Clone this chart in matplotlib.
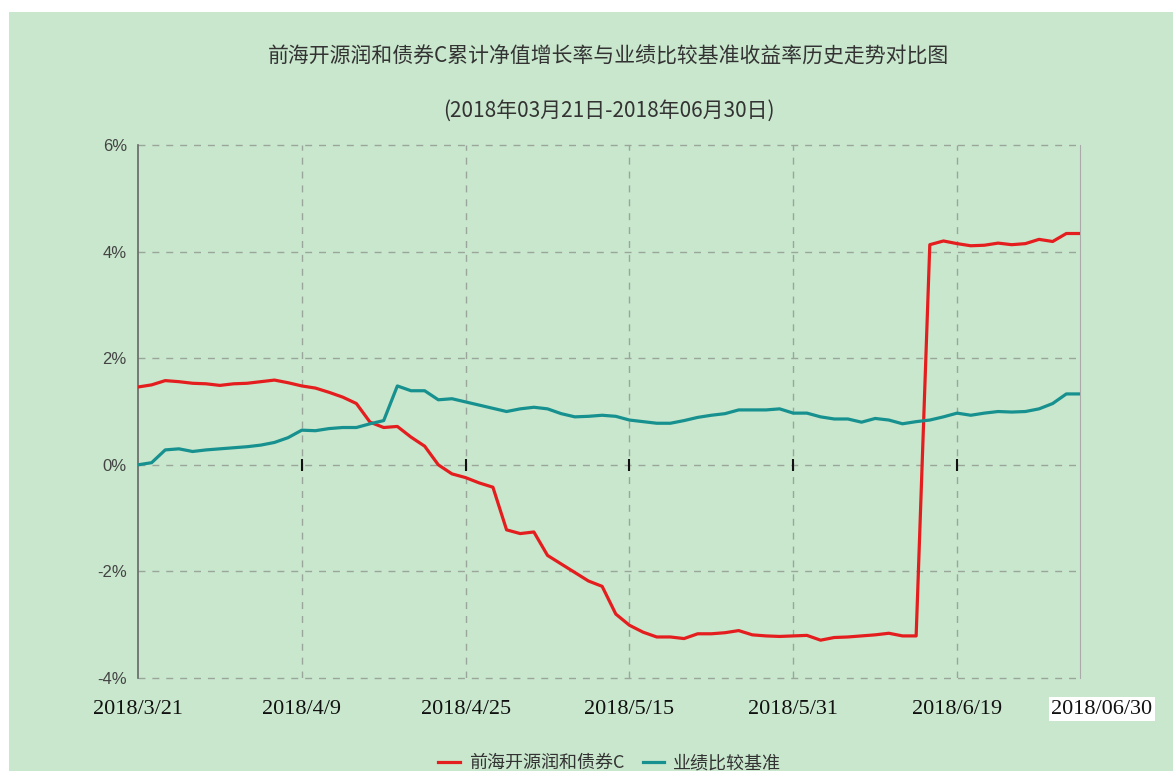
import numpy as np
import matplotlib
matplotlib.use('Agg')
import matplotlib.pyplot as plt
from matplotlib.patches import Rectangle

plt.rcParams['font.family'] = ['Noto Sans CJK SC', 'DejaVu Sans']

# 交易日序号 0..69
tick_pos = [0, 12, 24, 36, 48, 60]
tick_labels = ['2018/3/21', '2018/4/9', '2018/4/25', '2018/5/15', '2018/5/31', '2018/6/19']
last_label = '2018/06/30'

fund = [1.46, 1.50, 1.58, 1.56, 1.53, 1.52, 1.49, 1.52, 1.53, 1.56,
        1.59, 1.54, 1.48, 1.44, 1.36, 1.27, 1.15, 0.80, 0.70, 0.72,
        0.52, 0.35, 0.00, -0.17, -0.24, -0.34, -0.42, -1.22, -1.29, -1.26,
        -1.70, -1.86, -2.02, -2.18, -2.28, -2.80, -3.01, -3.14, -3.23, -3.23,
        -3.26, -3.17, -3.17, -3.15, -3.11, -3.19, -3.21, -3.22, -3.21, -3.20,
        -3.29, -3.24, -3.23, -3.21, -3.19, -3.16, -3.21, -3.21, 4.13, 4.20,
        4.15, 4.11, 4.12, 4.16, 4.13, 4.15, 4.23, 4.19, 4.34, 4.34]

bench = [0.00, 0.04, 0.28, 0.30, 0.25, 0.28, 0.30, 0.32, 0.34, 0.37,
         0.42, 0.51, 0.65, 0.64, 0.68, 0.70, 0.70, 0.77, 0.83, 1.48,
         1.39, 1.39, 1.22, 1.24, 1.18, 1.12, 1.06, 1.00, 1.05, 1.08,
         1.05, 0.96, 0.90, 0.91, 0.93, 0.91, 0.84, 0.81, 0.78, 0.78,
         0.83, 0.89, 0.93, 0.96, 1.03, 1.03, 1.03, 1.05, 0.97, 0.97,
         0.90, 0.86, 0.86, 0.80, 0.87, 0.84, 0.77, 0.81, 0.84, 0.90,
         0.97, 0.93, 0.97, 1.00, 0.99, 1.00, 1.05, 1.15, 1.33, 1.33]

x = np.arange(len(fund))
bg = '#c9e7cd'

fig = plt.figure(figsize=(11.73, 7.71), dpi=100, facecolor='white')
fig.patches.append(Rectangle((9 / 1173, 0), 1, 1 - 12 / 771, transform=fig.transFigure,
                             facecolor=bg, edgecolor='none', zorder=-10))
ax = fig.add_axes([0.1176, 0.1206, 0.8031, 0.6913])
ax.set_facecolor(bg)

ax.plot(x, fund, color='#e41e1e', lw=2.3, label='前海开源润和债券C', zorder=3)
ax.plot(x, bench, color='#17918f', lw=2.3, label='业绩比较基准', zorder=3)

ax.set_xlim(0, len(fund) - 1)
ax.set_ylim(-4, 6)
ax.set_yticks([-4, -2, 0, 2, 4, 6])
ax.set_yticklabels(['-4%', '-2%', '0%', '2%', '4%', '6%'], family='Liberation Sans',
                   fontsize=12, color='#444444')
ax.set_xticks(tick_pos)
ax.set_xticklabels(tick_labels, family='Liberation Serif', fontsize=16, color='#111111')
ax.tick_params(axis='both', length=0)
ax.tick_params(axis='y', pad=8)
ax.tick_params(axis='x', pad=16)

for yv in [-4, -2, 0, 2, 4, 6]:
    ax.axhline(yv, color='#9aa59c', lw=1, ls=(0, (5, 5)), zorder=1, clip_on=False)
for xv in tick_pos[1:]:
    ax.axvline(xv, color='#9aa59c', lw=1, ls=(0, (5, 5)), zorder=1)
# tick marks on the zero line
ax.plot(tick_pos[1:], [0] * len(tick_pos[1:]), '|', ms=8, mew=1.5, color='#111111', zorder=2)

for s in ['top', 'bottom']:
    ax.spines[s].set_visible(False)
ax.spines['left'].set_color('#666666')
ax.spines['left'].set_linewidth(1.2)
ax.spines['right'].set_color('#aaaaaa')
ax.spines['right'].set_linewidth(0.8)

ax.annotate(last_label, xy=(len(fund) - 1, -4), xytext=(22, -31), textcoords='offset pixels',
            ha='center', va='center', family='Liberation Serif', fontsize=16, color='#111111',
            bbox=dict(boxstyle='square,pad=0.1', facecolor='white', edgecolor='none'),
            annotation_clip=False)

fig.text(0.519, 0.926, '前海开源润和债券C累计净值增长率与业绩比较基准收益率历史走势对比图',
         ha='center', va='center', fontsize=15, color='#333333')
fig.text(0.519, 0.856, '(2018年03月21日-2018年06月30日)',
         ha='center', va='center', fontsize=15, color='#333333')

fig.legend(loc='center', bbox_to_anchor=(0.52, 1 - 763 / 771), ncol=2, frameon=False,
           fontsize=13, handlelength=1.2, handletextpad=0.5, columnspacing=1.0,
           labelcolor='#333333')

fig.savefig('out.png', dpi=100, facecolor=fig.get_facecolor())
